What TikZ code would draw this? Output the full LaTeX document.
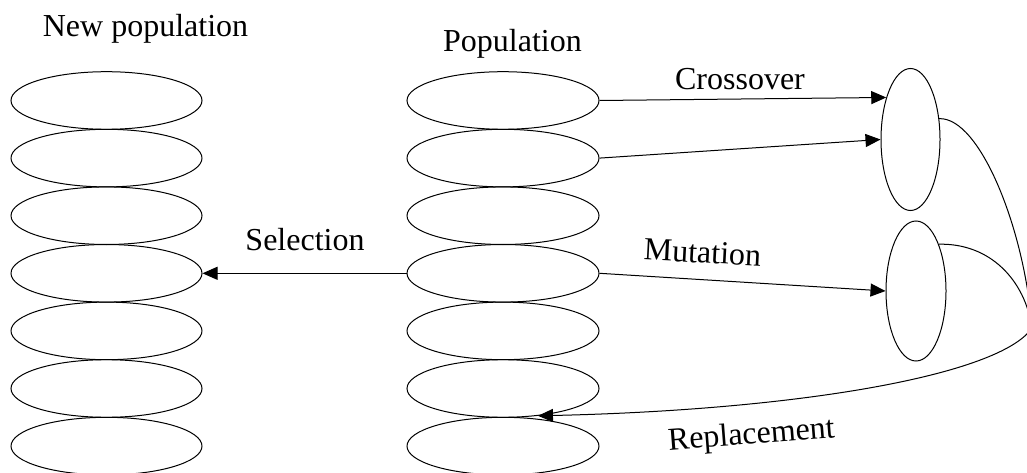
\documentclass[tikz,border=0pt]{standalone}
\usepackage{fontspec}
\setmainfont{Liberation Serif}
\usetikzlibrary{shapes.geometric,arrows.meta}
\begin{document}
\begin{tikzpicture}[x=1pt,y=-1pt,
  indiv/.style={draw,ellipse,line width=1pt,inner sep=0pt,minimum width=191pt,minimum height=57.6pt},
  offspring/.style={draw,ellipse,line width=1pt,inner sep=0pt,minimum width=59pt,minimum height=142pt},
  flow/.style={line width=1pt,-{Triangle[length=15pt,width=13pt]}},
  link/.style={line width=1pt},
  lbl/.style={font=\fontsize{32}{38}\selectfont,anchor=base,inner sep=0pt}]
\useasboundingbox (0,0) rectangle (1027,473);

% new population column
\foreach \k in {1,...,7}
  \node[indiv] (n\k) at (106.5,{100.5+57.6*(\k-1)}) {};
% current population column
\foreach \k in {1,...,7}
  \node[indiv,minimum width=192pt] (p\k) at (503,{100.5+57.6*(\k-1)}) {};

% offspring
\node[offspring] (cx) at (910.5,139.5) {};
\node[offspring,minimum width=60pt,minimum height=140pt] (mx) at (916,291) {};

% titles and operator labels
\node[lbl] (tnew) at (145.5,36.5) {New population};
\node[lbl] (tpop) at (512.5,51.5) {Population};
\node[lbl] (tcross) at (740,90) {Crossover};
\node[lbl] (tsel) at (305,250) {Selection};
\node[lbl,rotate=-3] (tmut) at (702,263) {Mutation};
\node[lbl,rotate=4.5] (trep) at (752,444) {Replacement};

% operators
\draw[flow] (p4.west) -- (n4.east);
\draw[flow] (p1.east) -- (cx.120);
\draw[flow] (p2.east) -- (cx.west);
\draw[flow] (p4.east) -- (mx.west);

% replacement loop
\coordinate (join) at (1032,328);
\draw[link] (cx.36) .. controls (980,117) and (1025,230) .. (join);
\draw[link] (mx.64) .. controls (990,243) and (1025,280) .. (join);
\draw[flow] (join) .. controls (1000,375) and (800,410) .. (p6.-38);
\end{tikzpicture}
\end{document}
